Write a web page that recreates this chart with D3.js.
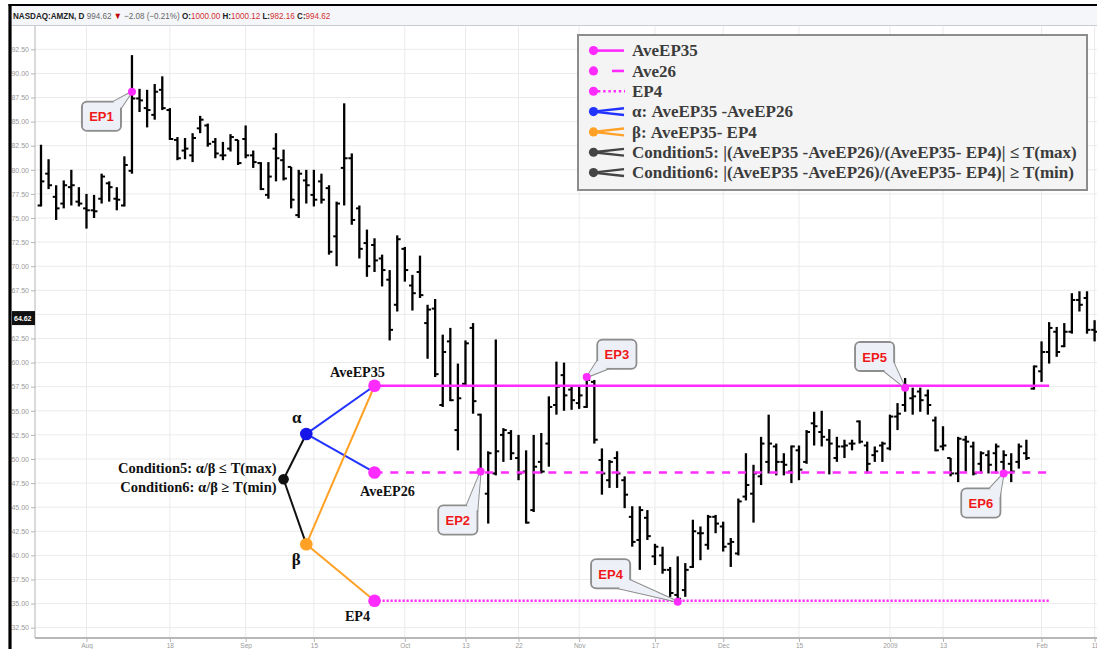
<!DOCTYPE html>
<html><head><meta charset="utf-8">
<script src="https://cdn.jsdelivr.net/npm/d3@7"></script>
<style>body{margin:0;background:#fff;} svg{display:block;}</style>
</head><body>
<svg id="chart" width="1097" height="649"></svg>
<script>
// ---------------- DATA ----------------
const dates = [
"2008-07-24","2008-07-25","2008-07-28","2008-07-29","2008-07-30","2008-07-31",
"2008-08-01","2008-08-04","2008-08-05","2008-08-06","2008-08-07","2008-08-08","2008-08-11","2008-08-12","2008-08-13","2008-08-14","2008-08-15","2008-08-18","2008-08-19","2008-08-20","2008-08-21","2008-08-22","2008-08-25","2008-08-26","2008-08-27","2008-08-28","2008-08-29",
"2008-09-02","2008-09-03","2008-09-04","2008-09-05","2008-09-08","2008-09-09","2008-09-10","2008-09-11","2008-09-12","2008-09-15","2008-09-16","2008-09-17","2008-09-18","2008-09-19","2008-09-22","2008-09-23","2008-09-24","2008-09-25","2008-09-26","2008-09-29","2008-09-30",
"2008-10-01","2008-10-02","2008-10-03","2008-10-06","2008-10-07","2008-10-08","2008-10-09","2008-10-10","2008-10-13","2008-10-14","2008-10-15","2008-10-16","2008-10-17","2008-10-20","2008-10-21","2008-10-22","2008-10-23","2008-10-24","2008-10-27","2008-10-28","2008-10-29","2008-10-30","2008-10-31",
"2008-11-03","2008-11-04","2008-11-05","2008-11-06","2008-11-07","2008-11-10","2008-11-11","2008-11-12","2008-11-13","2008-11-14","2008-11-17","2008-11-18","2008-11-19","2008-11-20","2008-11-21","2008-11-24","2008-11-25","2008-11-26","2008-11-28",
"2008-12-01","2008-12-02","2008-12-03","2008-12-04","2008-12-05","2008-12-08","2008-12-09","2008-12-10","2008-12-11","2008-12-12","2008-12-15","2008-12-16","2008-12-17","2008-12-18","2008-12-19","2008-12-22","2008-12-23","2008-12-24","2008-12-26","2008-12-29","2008-12-30","2008-12-31",
"2009-01-02","2009-01-05","2009-01-06","2009-01-07","2009-01-08","2009-01-09","2009-01-12","2009-01-13","2009-01-14","2009-01-15","2009-01-16","2009-01-20","2009-01-21","2009-01-22","2009-01-23","2009-01-26","2009-01-27","2009-01-28","2009-01-29","2009-01-30",
"2009-02-02","2009-02-03","2009-02-04","2009-02-05","2009-02-06","2009-02-09","2009-02-10","2009-02-11"
];
const openP = [
76.3,79.6,77.2,76.5,78.2,76.7,
76.0,75.8,77.0,78.6,77.0,76.3,79.9,87.4,86.4,85.7,88.3,86.2,83.1,82.0,81.5,84.3,84.6,82.9,81.5,82.2,83.1,
83.2,81.5,80.7,77.4,82.2,81.0,80.3,75.3,78.9,77.4,78.8,78.1,73.1,80.2,81.2,76.0,72.4,72.2,70.8,68.6,66.0,
71.8,68.0,69.4,64.1,65.6,55.6,62.2,53.0,57.8,63.6,54.6,46.4,48.5,52.5,52.7,50.1,48.7,44.7,49.7,51.6,55.6,58.7,57.2,
55.8,55.4,58.0,49.9,47.8,50.1,47.8,44.0,41.6,43.9,39.9,40.0,38.5,35.9,36.4,38.8,42.3,41.1,44.0,
43.0,41.2,40.2,46.1,46.4,48.2,49.7,51.3,49.7,48.7,50.9,49.7,53.7,52.8,52.0,50.1,51.3,51.6,53.9,51.4,50.4,51.4,
51.1,54.4,55.6,56.3,57.0,56.6,54.0,51.3,50.1,48.5,52.0,51.3,49.5,50.4,50.6,49.7,49.5,49.7,50.6,57.3,
59.1,61.1,63.2,61.7,63.2,66.5,66.7,63.4
];
const highP = [
82.6,81.1,78.4,78.9,80.0,78.2,
77.5,77.4,79.6,78.8,78.2,81.4,91.9,88.4,88.3,88.9,89.7,86.4,83.4,83.3,83.8,85.6,84.8,83.3,82.9,83.7,83.1,
84.6,82.0,80.8,80.8,83.8,82.1,80.3,80.0,80.0,80.0,79.6,78.4,76.7,86.9,81.7,76.3,73.8,72.9,71.2,69.6,73.2,
72.0,69.1,71.1,66.0,66.6,62.9,63.6,59.9,62.3,64.1,54.7,50.8,62.4,53.2,53.0,52.5,50.9,52.5,52.7,56.5,60.1,60.0,57.5,
57.5,58.5,58.2,51.1,49.9,50.8,48.2,45.1,45.1,44.7,41.2,40.9,38.8,39.9,39.2,43.7,43.0,44.2,44.2,
43.5,41.8,45.9,50.6,49.4,52.3,54.6,51.6,50.6,51.4,51.4,53.0,54.9,55.0,53.1,52.3,52.0,52.0,54.0,51.8,51.3,51.8,
54.6,55.8,58.4,57.4,57.4,57.2,54.4,53.4,50.1,52.3,52.4,51.8,50.8,50.9,51.6,50.9,50.6,51.6,52.0,59.7,
62.2,64.2,63.7,64.1,67.2,67.4,67.4,64.4
];
const lowP = [
76.2,78.0,74.8,76.0,76.3,76.2,
73.9,75.0,76.5,76.7,75.8,76.2,79.6,86.0,84.4,85.2,86.2,83.1,81.0,81.1,80.8,83.8,82.4,81.2,81.0,81.9,80.5,
81.2,80.2,77.9,77.0,78.8,78.9,76.0,75.0,76.5,76.2,76.5,71.2,70.0,76.3,74.3,70.8,68.9,69.4,67.9,62.3,65.3,
68.4,65.4,66.7,60.4,58.5,55.4,56.0,50.9,57.5,54.7,48.6,43.3,48.3,49.7,49.9,47.8,43.3,44.5,48.5,49.2,54.6,55.0,55.1,
55.2,55.3,51.6,46.3,47.0,47.0,44.9,40.9,38.5,41.6,39.0,38.1,35.7,34.9,35.7,38.7,39.5,40.6,42.3,
40.4,38.8,40.0,45.7,43.4,47.3,48.5,48.3,48.3,47.5,47.8,49.5,51.4,51.3,48.4,49.7,50.1,50.9,51.6,48.5,49.7,49.7,
50.9,53.0,54.9,54.6,54.9,54.6,50.8,50.9,48.2,47.6,48.7,48.3,48.5,48.5,48.5,48.5,47.6,49.0,49.9,57.2,
58.0,59.9,60.6,61.6,63.0,65.3,63.0,62.2
];
const closeP = [
78.8,78.4,76.0,78.4,78.4,76.5,
75.8,75.7,79.3,78.2,76.9,80.5,87.4,87.2,86.2,88.1,86.4,83.2,81.2,82.2,83.3,85.2,82.7,81.7,81.5,83.4,80.7,
81.5,80.8,78.0,79.3,81.2,79.1,76.9,79.6,78.4,76.9,76.9,71.5,76.5,81.2,74.8,71.8,70.0,70.6,69.6,63.4,72.8,
69.6,67.2,67.0,65.5,58.8,61.1,56.1,56.3,62.0,56.0,48.7,50.6,50.8,53.0,50.6,48.5,43.4,49.2,48.7,55.4,57.5,56.6,56.1,
56.6,58.2,52.0,48.5,49.7,48.5,46.3,41.4,44.7,42.0,40.9,38.5,36.1,35.5,38.5,42.5,42.3,44.0,43.3,
40.9,41.4,45.6,47.3,48.5,51.6,51.6,49.7,49.4,51.3,48.9,52.8,53.4,52.3,51.6,51.3,51.4,51.6,51.8,49.5,50.8,51.6,
54.4,54.7,57.4,56.5,56.1,55.6,50.9,51.4,48.5,52.1,51.8,48.5,50.6,49.4,51.3,50.4,48.7,51.3,50.1,59.6,
61.1,63.6,61.1,63.2,66.5,66.0,63.4,63.2
];
const yTicks = [32.5,35,37.5,40,42.5,45,47.5,50,52.5,55,57.5,60,62.5,65,67.5,70,72.5,75,77.5,80,82.5,85,87.5,90,92.5];
const yHiddenLabel = 65; // covered by the last-price marker in the reference
const lastPrice = 64.62;
const xTickDates = ["2008-08-01","2008-08-18","2008-09-02","2008-09-15","2008-10-01","2008-10-13","2008-10-22","2008-11-03","2008-11-17","2008-12-01","2008-12-15","2009-01-02","2009-01-13","2009-02-02","2009-02-11"];
const xTickLabels = ["Aug","18","Sep","15","Oct","13","22","Nov","17","Dec","15","2009","13","Feb","11"];

const epNames  = ["EP1","EP2","EP3","EP4","EP5","EP6"];
const epDates  = ["2008-08-11","2008-10-15","2008-11-04","2008-11-20","2009-01-06","2009-01-26"];
const epValues = [88.1, 48.7, 58.5, 35.2, 57.4, 48.5];

const levelNames  = ["AveEP35","Ave26","EP4"];
const levelValues = [57.6, 48.6, 35.3];
const levelStart = "2008-09-25", levelEnd = "2009-02-03";

const nodeNames  = ["cond","alpha","beta"];
const nodeDates  = ["2008-09-09","2008-09-12","2008-09-12"];
const nodeValues = [47.9, 52.6, 41.15];

const legendLabels = ["AveEP35","Ave26","EP4","α: AveEP35 -AveEP26","β: AveEP35- EP4",
  "Condition5: |(AveEP35 -AveEP26)/(AveEP35- EP4)| ≤ T(max)",
  "Condition6: |(AveEP35 -AveEP26)/(AveEP35- EP4)| ≥ T(min)"];

// ---------------- DRAW ----------------
const MAG = "#ff2bff", BLUE = "#2233ff", ORANGE = "#ffa126";
const svg = d3.select("#chart");
const plotL = 35, plotR = 1097, plotT = 26, plotB = 638;

const x = d3.scalePoint().domain(dates).range([41.0, 1094.6]);
const y = d3.scaleLinear().domain([31.43, 94.92]).range([plotB, plotT]);

// frame / header
svg.append("rect").attr("x",12).attr("y",6).attr("width",1085).attr("height",19).attr("fill","#f4f6f9");
svg.append("line").attr("x1",12).attr("x2",1097).attr("y1",25.5).attr("y2",25.5).attr("stroke","#c8ccd2");

// grid
const grid = svg.append("g");
grid.selectAll("line.h").data(yTicks).join("line")
  .attr("x1",plotL).attr("x2",plotR).attr("y1",d=>y(d)).attr("y2",d=>y(d))
  .attr("stroke","#ebebeb").attr("stroke-width",1);
grid.selectAll("line.v").data(xTickDates).join("line")
  .attr("x1",d=>x(d)).attr("x2",d=>x(d)).attr("y1",plotT).attr("y2",plotB)
  .attr("stroke","#ebebeb").attr("stroke-width",1);

// axes
const fmt = d3.format(".2f");
const yAxis = d3.axisLeft(y).tickValues(yTicks).tickFormat(d => d===yHiddenLabel ? "" : fmt(d)).tickSize(4).tickPadding(2);
const gy = svg.append("g").attr("transform",`translate(${plotL},0)`).call(yAxis);
gy.select(".domain").attr("stroke","#b5b5b5").attr("d",`M0,${plotT}V${plotB}`);
gy.selectAll(".tick line").attr("stroke","#b5b5b5");
gy.selectAll(".tick text").attr("fill","#9a9a9a").style("font","7px 'Liberation Sans',Arial,sans-serif");

const xAxis = d3.axisBottom(x).tickValues(xTickDates).tickFormat((d,i)=>xTickLabels[i]).tickSize(4).tickPadding(1);
const gx = svg.append("g").attr("transform",`translate(0,${plotB})`).call(xAxis);
gx.select(".domain").attr("stroke","#a0a0a0").attr("stroke-width",1.5).attr("d",`M${plotL},0H${plotR}`);
gx.selectAll(".tick line").attr("stroke","#b5b5b5");
gx.selectAll(".tick text").attr("fill","#9a9a9a").style("font","6.5px 'Liberation Sans',Arial,sans-serif");

// last-price marker on y axis
const pm = svg.append("g");
pm.append("rect").attr("x",12).attr("y",y(lastPrice)-7).attr("width",23).attr("height",14).attr("fill","#111");
pm.append("text").attr("x",14).attr("y",y(lastPrice)+2.5).attr("fill","#fff")
  .style("font","bold 7px 'Liberation Sans',Arial,sans-serif").text(fmt(lastPrice));

// OHLC bars
const bars = svg.append("g");
const idx = d3.range(dates.length);
bars.selectAll("line.hl").data(idx).join("line")
  .attr("x1",i=>x(dates[i])).attr("x2",i=>x(dates[i]))
  .attr("y1",i=>y(highP[i])).attr("y2",i=>y(lowP[i]))
  .attr("stroke","#000").attr("stroke-width",2.3);
bars.selectAll("line.o").data(idx).join("line")
  .attr("x1",i=>x(dates[i])-3.4).attr("x2",i=>x(dates[i]))
  .attr("y1",i=>y(openP[i])).attr("y2",i=>y(openP[i]))
  .attr("stroke","#000").attr("stroke-width",2);
bars.selectAll("line.c").data(idx).join("line")
  .attr("x1",i=>x(dates[i])).attr("x2",i=>x(dates[i])+3.4)
  .attr("y1",i=>y(closeP[i])).attr("y2",i=>y(closeP[i]))
  .attr("stroke","#000").attr("stroke-width",2);

// level lines
const dashes = [null, "8,7.8", "2.2,1.8"];
levelValues.forEach((v,k)=>{
  svg.append("line").attr("x1",x(levelStart)).attr("x2",x(levelEnd))
    .attr("y1",y(v)).attr("y2",y(v)).attr("stroke",MAG).attr("stroke-width",2.6)
    .attr("stroke-dasharray",dashes[k]);
});

// diagram
const P = n => { const i = nodeNames.indexOf(n); return [x(nodeDates[i]), y(nodeValues[i])]; };
const L = k => [x(levelStart), y(levelValues[k])];
const seg = (a,b,c) => svg.append("line").attr("x1",a[0]).attr("y1",a[1]).attr("x2",b[0]).attr("y2",b[1])
  .attr("stroke",c).attr("stroke-width",2);
seg(P("cond"),P("alpha"),"#111"); seg(P("cond"),P("beta"),"#111");
seg(P("alpha"),L(0),BLUE); seg(P("alpha"),L(1),BLUE);
seg(P("beta"),L(0),ORANGE); seg(P("beta"),L(2),ORANGE);
[0,1,2].forEach(k=>svg.append("circle").attr("cx",L(k)[0]).attr("cy",L(k)[1]).attr("r",6.3).attr("fill",MAG));
svg.append("circle").attr("cx",P("alpha")[0]).attr("cy",P("alpha")[1]).attr("r",6.3).attr("fill","#1616e8");
svg.append("circle").attr("cx",P("beta")[0]).attr("cy",P("beta")[1]).attr("r",6.3).attr("fill",ORANGE);
svg.append("circle").attr("cx",P("cond")[0]).attr("cy",P("cond")[1]).attr("r",5.3).attr("fill","#111");

const serif = "'Liberation Serif','Times New Roman',serif";
const dtext = (tx,ty,t,size,anchor) => svg.append("text").attr("x",tx).attr("y",ty).attr("text-anchor",anchor||"middle")
  .attr("fill","#111").style("font",`bold ${size}px ${serif}`).text(t);
dtext(L(0)[0]-17, L(0)[1]-9, "AveEP35", 14.2);
dtext(L(1)[0]+13, L(1)[1]+23.5, "AveEP26", 14.2);
dtext(L(2)[0]-17, L(2)[1]+20.5, "EP4", 14.2);
dtext(P("alpha")[0]-9.5, P("alpha")[1]-11, "α", 17);
dtext(P("beta")[0]-10, P("beta")[1]+21, "β", 17);
dtext(P("cond")[0]-7, P("cond")[1]-6, "Condition5: α/β ≤ T(max)", 14.5, "end");
dtext(P("cond")[0]-7, P("cond")[1]+12.5, "Condition6: α/β ≥ T(min)", 14.5, "end");

// EP callouts
const callouts = [
  {bx:-50,by:10,tb:[[-19,10.3],[-11,16.3]]},
  {bx:-42.3,by:34,tb:[[-14,34],[-3.3,39.3]]},
  {bx:10.6,by:-37.3,tb:[[10.6,-16.3],[20.3,-8]]},
  {bx:-86.6,by:-42.4,tb:[[-48,-21.7],[-59.3,-13.4]]},
  {bx:-50,by:-45.6,tb:[[-11.7,-25.3],[-21,-16.6]]},
  {bx:-42.3,by:15,tb:[[-14,15],[-4,23.7]]}
];
const cg = svg.append("g");
epNames.forEach((name,k)=>{
  const cx = x(epDates[k]), cy = y(epValues[k]);
  const c = callouts[k];
  const tail = `M${cx+c.tb[0][0]},${cy+c.tb[0][1]}L${cx},${cy}L${cx+c.tb[1][0]},${cy+c.tb[1][1]}Z`;
  const g = cg.append("g");
  g.append("path").attr("d",tail).attr("fill","#edf1f7").attr("stroke","#8e8e8e").attr("stroke-width",2);
  g.append("rect").attr("x",cx+c.bx).attr("y",cy+c.by).attr("width",39).attr("height",29).attr("rx",5)
    .attr("fill","#edf1f7").attr("stroke","#8e8e8e").attr("stroke-width",2);
  g.append("path").attr("d",tail).attr("fill","#edf1f7");
  g.append("rect").attr("x",cx+c.bx+1).attr("y",cy+c.by+1).attr("width",37).attr("height",27).attr("rx",4).attr("fill","#edf1f7");
  g.append("text").attr("x",cx+c.bx+19.5).attr("y",cy+c.by+19.5).attr("text-anchor","middle")
    .attr("fill","#f01818").style("font","bold 13px 'Liberation Sans',Arial,sans-serif").text(name);
  svg.append("circle").attr("cx",cx).attr("cy",cy).attr("r",4).attr("fill",MAG);
});

// legend
const lg = svg.append("g");
lg.append("rect").attr("x",578).attr("y",35).attr("width",509).attr("height",155)
  .attr("fill","#f4f4f4").attr("stroke","#8c8c8c").attr("stroke-width",2);
const legColors = [MAG,MAG,MAG,BLUE,ORANGE,"#444","#444"];
legendLabels.forEach((t,k)=>{
  const cy = 50.6 + k*20.33;
  const col = legColors[k];
  if (k===0) lg.append("line").attr("x1",593).attr("x2",624).attr("y1",cy).attr("y2",cy).attr("stroke",col).attr("stroke-width",2.6);
  if (k===1) lg.append("line").attr("x1",612).attr("x2",624).attr("y1",cy).attr("y2",cy).attr("stroke",col).attr("stroke-width",2.6);
  if (k===2) lg.append("line").attr("x1",598).attr("x2",625).attr("y1",cy).attr("y2",cy).attr("stroke",col).attr("stroke-width",2.6).attr("stroke-dasharray","2.4,2.8");
  if (k>=3) {
    lg.append("line").attr("x1",593).attr("x2",624).attr("y1",cy).attr("y2",cy-3.4).attr("stroke",col).attr("stroke-width",2.4);
    lg.append("line").attr("x1",593).attr("x2",624).attr("y1",cy).attr("y2",cy+3.4).attr("stroke",col).attr("stroke-width",2.4);
  }
  lg.append("circle").attr("cx",593.5).attr("cy",cy).attr("r",4.6).attr("fill",col);
  lg.append("text").attr("x",632).attr("y",cy+5.8).attr("fill","#3c3c3c")
    .style("font",`bold 17px ${serif}`).text(t);
});

// header text
const ht = svg.append("text").attr("transform","translate(13,18.5) scale(0.9,1)")
  .style("font","9px 'Liberation Sans',Arial,sans-serif");
const parts = [["NASDAQ:AMZN, D ","#222","bold"],["994.62 ","#666","normal"],["▼ ","#c00000","normal"],["−2.08 (−0.21%) ","#666","normal"],
  ["O:","#222","bold"],["1000.00 ","#d23030","normal"],["H:","#222","bold"],["1000.12 ","#d23030","normal"],
  ["L:","#222","bold"],["982.16 ","#d23030","normal"],["C:","#222","bold"],["994.62","#d23030","normal"]];
parts.forEach(p=>ht.append("tspan").attr("fill",p[1]).attr("font-weight",p[2]).text(p[0]));

// outer black frame
svg.append("line").attr("x1",8.5).attr("x2",1097).attr("y1",5).attr("y2",5).attr("stroke","#000").attr("stroke-width",2.2);
svg.append("line").attr("x1",10).attr("x2",10).attr("y1",4).attr("y2",649).attr("stroke","#000").attr("stroke-width",3.2);
</script>
</body></html>
